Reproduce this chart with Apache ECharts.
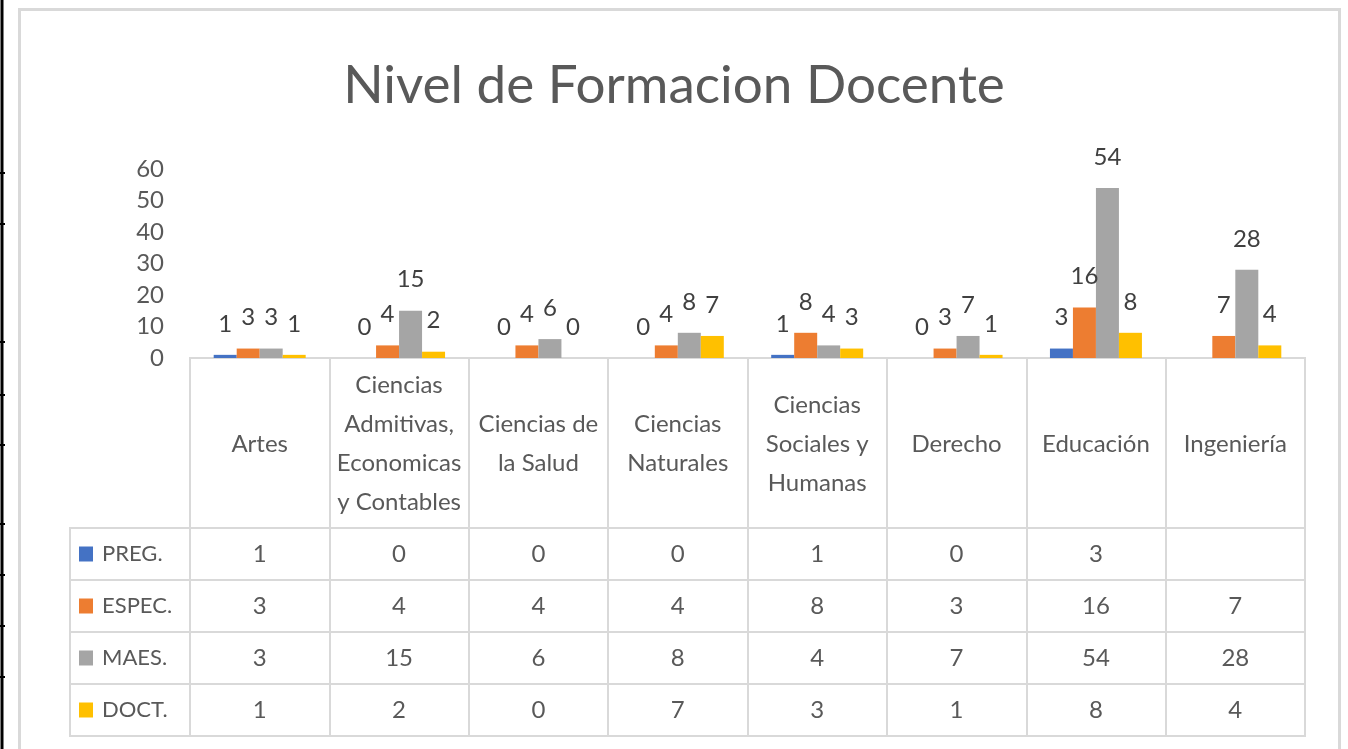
<!DOCTYPE html>
<html><head><meta charset="utf-8">
<script src="https://cdn.jsdelivr.net/npm/echarts@6/dist/echarts.min.js"></script>
<style>html,body{margin:0;padding:0;background:#fff}#c{width:1348px;height:749px}</style>
</head><body><div id="c"></div>
<script>
// ---- data ----
const title = 'Nivel de Formacion Docente';
const categories = ['Artes', 'Ciencias\nAdmitivas,\nEconomicas\ny Contables', 'Ciencias de\nla Salud', 'Ciencias\nNaturales', 'Ciencias\nSociales y\nHumanas', 'Derecho', 'Educación', 'Ingeniería'];
const seriesNames = ['PREG.', 'ESPEC.', 'MAES.', 'DOCT.'];
const preg  = [1, 0, 0, 0, 1, 0, 3, null];
const espec = [3, 4, 4, 4, 8, 3, 16, 7];
const maes  = [3, 15, 6, 8, 4, 7, 54, 28];
const doct  = [1, 2, 0, 7, 3, 1, 8, 4];
const yMin = 0, yMax = 60, yInterval = 10;

// ---- styling / layout ----
const rows = [preg, espec, maes, doct];
const colors = ['#4472C4', '#ED7D31', '#A5A5A5', '#FFC000'];
const FONT = 'Lato, "Noto Sans", sans-serif';
const TXT = '#595959';
const LINE = '#D9D9D9';
const PL = 190, PW = 1115, BASE = 358, TOPY = 169;
const CAT_H = 170, ROW_H = 52, HEAD_L = 70, HEAD_W = 120;
const tableTop = BASE + CAT_H;

const grids = [
  { left: PL, top: TOPY, width: PW, height: BASE - TOPY },
  { left: PL, top: BASE, width: PW, height: CAT_H, show: true, borderColor: LINE, borderWidth: 2 }
];
const xAxes = [
  { type: 'category', gridIndex: 0, data: categories,
    axisLine: { show: true, lineStyle: { color: LINE, width: 2 } },
    axisTick: { show: false },
    axisLabel: { interval: 0, margin: 86, verticalAlign: 'middle', lineHeight: 39,
      fontFamily: FONT, fontSize: 24, color: TXT, align: 'center' } },
  { type: 'category', gridIndex: 1, data: categories,
    axisLine: { show: false }, axisTick: { show: false }, axisLabel: { show: false },
    splitLine: { show: true, interval: 0, lineStyle: { color: LINE, width: 2 } } }
];
const yAxes = [
  { type: 'value', gridIndex: 0, min: yMin, max: yMax, interval: yInterval,
    axisLine: { show: false }, axisTick: { show: false }, splitLine: { show: false },
    axisLabel: { margin: 26, fontFamily: FONT, fontSize: 24, color: TXT } },
  { type: 'category', gridIndex: 1, data: [''], show: false }
];
rows.forEach((r, i) => {
  const top = tableTop + ROW_H * i;
  // value cells
  grids.push({ left: PL, top: top, width: PW, height: ROW_H, show: true, borderColor: LINE, borderWidth: 2 });
  xAxes.push({ type: 'category', gridIndex: grids.length - 1, data: categories,
    axisLine: { show: false }, axisTick: { show: false },
    splitLine: { show: true, interval: 0, lineStyle: { color: LINE, width: 2 } },
    axisLabel: { interval: 0, inside: true, margin: ROW_H / 2, verticalAlign: 'middle',
      fontFamily: FONT, fontSize: 24, color: TXT,
      formatter: (v, idx) => (r[idx] == null ? '' : String(r[idx])) } });
  yAxes.push({ type: 'category', gridIndex: grids.length - 1, data: [''], show: false });
  // header cell with legend key
  grids.push({ left: HEAD_L, top: top, width: HEAD_W, height: ROW_H, show: true, borderColor: LINE, borderWidth: 2 });
  xAxes.push({ type: 'category', gridIndex: grids.length - 1, data: [''], show: false });
  yAxes.push({ type: 'category', gridIndex: grids.length - 1, data: [seriesNames[i]],
    axisLine: { show: false }, axisTick: { show: false },
    axisLabel: { inside: true, margin: 9, align: 'left', verticalAlign: 'middle',
      formatter: v => '{sq| }{t|' + v + '}',
      rich: {
        sq: { width: 14, height: 15, backgroundColor: colors[i] },
        t: { fontFamily: FONT, fontSize: 22, color: TXT, padding: [0, 0, 0, 9] }
      } } });
});

const series = rows.map((r, i) => ({
  name: seriesNames[i], type: 'bar', xAxisIndex: 0, yAxisIndex: 0,
  data: r, barGap: '0%', barCategoryGap: '34%',
  itemStyle: { color: colors[i] },
  label: { show: true, position: 'top', distance: 19, fontFamily: FONT, fontSize: 24, color: '#404040' }
}));

const leftTicks = [173, 224, 342, 395, 445, 524, 575, 626, 677];
const graphic = [
  { type: 'rect', shape: { x: 19.5, y: 9.5, width: 1320, height: 760 },
    style: { fill: null, stroke: LINE, lineWidth: 3 }, silent: true },
  { type: 'line', shape: { x1: 2, y1: 0, x2: 2, y2: 749 }, style: { stroke: '#000', lineWidth: 3 }, silent: true }
].concat(leftTicks.map(y => ({ type: 'line', shape: { x1: 0, y1: y, x2: 5, y2: y },
  style: { stroke: '#000', lineWidth: 2 }, silent: true })));

const chart = echarts.init(document.getElementById('c'), null, { renderer: 'canvas' });
chart.setOption({
  animation: false,
  backgroundColor: '#fff',
  title: { text: title, left: 'center', top: 54,
    textStyle: { fontFamily: FONT, fontSize: 53, fontWeight: 'normal', color: TXT } },
  grid: grids, xAxis: xAxes, yAxis: yAxes, series: series, graphic: graphic
});
</script></body></html>
